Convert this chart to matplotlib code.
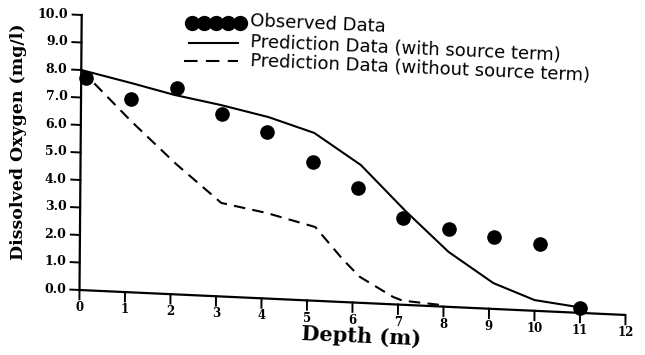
import numpy as np
import matplotlib
matplotlib.use("Agg")
import matplotlib.pyplot as plt
import matplotlib.transforms as mtransforms

# observed dissolved oxygen (mg/l) vs depth (m)
depth_obs = [0.1, 1.1, 2.1, 3.1, 4.1, 5.1, 6.1, 7.1, 8.1, 9.1, 10.1, 11.0]
do_obs = [7.72, 7.03, 7.5, 6.64, 6.06, 5.04, 4.17, 3.16, 2.83, 2.61, 2.44, 0.18]

# model, with source term
depth_src = [0.0, 1.1, 2.05, 3.07, 4.12, 5.13, 6.16, 7.15, 8.1, 9.09, 10.0, 11.0]
do_src = [8.0, 7.61, 7.25, 6.96, 6.60, 6.10, 5.01, 3.41, 2.0, 0.94, 0.39, 0.2]

# model, without source term
depth_nosrc = [0.0, 1.1, 2.1, 3.1, 4.1, 5.17, 5.79, 6.16, 6.89, 7.1, 8.0]
do_nosrc = [8.0, 6.23, 4.74, 3.40, 3.11, 2.68, 1.53, 0.94, 0.27, 0.15, 0.05]

x_ticks = list(range(0, 13))
y_ticks = [0.0, 1.0, 2.0, 3.0, 4.0, 5.0, 6.0, 7.0, 8.0, 9.0, 10.0]
legend_labels = ["Observed Data",
                 "Prediction Data (with source term)",
                 "Prediction Data (without source term)"]

W, H = 645, 355
X0, Y0 = 79.5, 290.0      # pixel position of the origin
SX, SY = 45.5, 27.5       # pixels per unit
k_skew = 2.08 / SY        # the scanned x axis runs downhill
a_skew = 0.22 / SX        # the y axis leans a little to the right

fig = plt.figure(figsize=(W / 100, H / 100), dpi=100)
ax = fig.add_axes([0, 0, 1, 1])
ax.set_xlim(-X0 / SX, (W - X0) / SX)
ax.set_ylim((Y0 - H) / SY, Y0 / SY)
ax.axis("off")

skew = mtransforms.Affine2D(np.array([[1.0, a_skew, 0.0],
                                      [-k_skew, 1.0, 0.0],
                                      [0.0, 0.0, 1.0]])) + ax.transData

def px(x, y):
    return x / W, 1 - y / H

serif_b = dict(family="DejaVu Serif", weight="bold")

# axes
ax.plot([0, 12], [0, 0], color="k", lw=1.6, transform=skew, solid_capstyle="butt")
ax.plot([0, 0], [0, 10], color="k", lw=1.6, transform=skew)
for v in y_ticks:
    ax.plot([-0.2, 0], [v, v], color="k", lw=1.4, transform=skew)
    ax.text(-0.3, v, f"{v:.1f}", transform=skew, ha="right", va="center",
            fontsize=9, **serif_b)
for x in x_ticks:
    ax.plot([x, x], [0, -0.34], color="k", lw=1.4, transform=skew)
    ax.text(x, -0.64, str(x), transform=skew, ha="center", va="center",
            fontsize=8.5, **serif_b)

# data
ax.plot(depth_src, do_src, color="k", lw=1.5, transform=skew)
ax.plot(depth_nosrc, do_nosrc, color="k", lw=1.5, dashes=(5.5, 3.5), transform=skew)
ax.plot(depth_obs, do_obs, "o", color="k", ms=9.5, transform=skew)

# axis titles
fig.text(*px(19, 142), "Dissolved Oxygen (mg/l)", rotation=90, ha="center",
         va="center", fontsize=12.5, **serif_b)
fig.text(*px(361, 337), "Depth (m)", rotation=-2.5, rotation_mode="anchor",
         ha="center", va="center", fontsize=15, **serif_b)

# legend drawn by hand, like the plotter did
dot_x = np.linspace(192, 240, 5)
fig.lines.append(plt.Line2D([px(x, 23)[0] for x in dot_x], [px(0, 23)[1]] * 5,
                            transform=fig.transFigure, ls="none", marker="o",
                            ms=10, color="k"))
fig.lines.append(plt.Line2D([px(189, 43)[0], px(238, 43)[0]], [px(0, 43)[1]] * 2,
                            transform=fig.transFigure, color="k", lw=1.5))
fig.lines.append(plt.Line2D([px(184, 61)[0], px(238, 61)[0]], [px(0, 61)[1]] * 2,
                            transform=fig.transFigure, color="k", lw=1.5,
                            dashes=(6.5, 4.0)))
for label, yy in zip(legend_labels, [21, 42, 61]):
    fig.text(*px(250, yy), label, rotation=-2.5, rotation_mode="anchor",
             ha="left", va="center", fontsize=13, family="DejaVu Sans",
             weight="medium")

fig.savefig("out.png", dpi=100)
